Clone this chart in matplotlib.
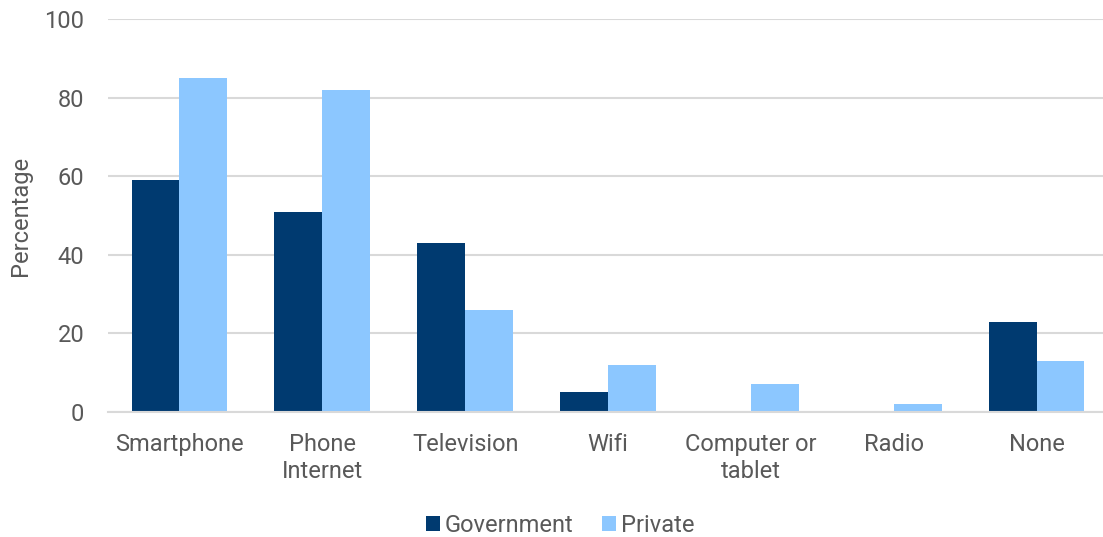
import numpy as np
import matplotlib.pyplot as plt

categories = ['Smartphone', 'Phone\nInternet', 'Television', 'Wifi', 'Computer or\ntablet', 'Radio', 'None']
government = [59, 51, 43, 5, 0, 0, 23]
private = [85, 82, 26, 12, 7, 2, 13]
y_ticks = [0, 20, 40, 60, 80, 100]

plt.rcParams['font.family'] = ['Roboto', 'DejaVu Sans']
text_color = '#595959'

fig = plt.figure(figsize=(11.03, 5.37), dpi=100)
ax = fig.add_axes([108 / 1103, 1 - 412 / 537, 1000 / 1103, 393 / 537])

x = np.arange(len(categories))
w = 0.335
ax.bar(x - w / 2, government, w, color='#003a70', label='Government', zorder=3)
ax.bar(x + w / 2, private, w, color='#8cc7ff', label='Private', zorder=3)

ax.set_xlim(-0.5, len(categories) - 0.5)
ax.set_ylim(0, 100)
ax.set_yticks(y_ticks)
ax.set_xticks(x)
ax.set_xticklabels(categories, linespacing=1.25)
ax.tick_params(axis='both', length=0, labelsize=17, colors=text_color)
ax.tick_params(axis='x', pad=15)
ax.tick_params(axis='y', pad=17)
ax.grid(axis='y', color='#d9d9d9', linewidth=1.5, zorder=0)
for s in ['top', 'right', 'left']:
    ax.spines[s].set_visible(False)
ax.spines['bottom'].set_color('#d9d9d9')
ax.spines['bottom'].set_linewidth(1.5)
ax.spines['bottom'].set_zorder(4)

ax.set_ylabel('Percentage', fontsize=17, color=text_color, labelpad=9)

fig.legend(loc='center', bbox_to_anchor=(560 / 1103, 1 - 525 / 537), ncol=2, frameon=False,
           fontsize=17, labelcolor=text_color, handlelength=0.6, handleheight=0.6,
           handletextpad=0.2, columnspacing=1.2)

plt.savefig('out.png', dpi=100)
